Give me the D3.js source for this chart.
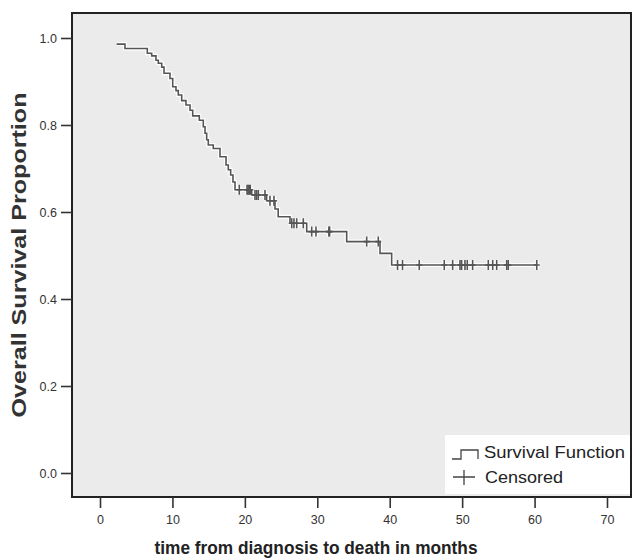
<!DOCTYPE html>
<html>
<head>
<meta charset="utf-8">
<script src="https://cdn.jsdelivr.net/npm/d3@7"></script>
<style>
  body { margin: 0; background: #fff; }
  text { font-family: Arial, "Liberation Sans", sans-serif; }
</style>
</head>
<body>
<script>
// Kaplan-Meier curve, values
var startTime = 2.3, startSurv = 0.986;
var eventTimes = [3.45, 6.53, 7.14, 7.73, 8.05, 8.52, 8.84, 9.66, 10.04, 10.49, 10.81, 11.28,
                  11.87, 12.43, 12.80, 13.71, 14.26, 14.50, 14.73, 14.95, 15.64, 16.57, 17.40,
                  17.71, 18.04, 18.36, 18.64, 20.94, 23.0, 24.16, 24.6, 26.23, 28.54, 34.06,
                  38.66, 40.27];
var survival = [0.976, 0.965, 0.959, 0.949, 0.942, 0.933, 0.919, 0.907, 0.888, 0.879, 0.869, 0.856,
                0.846, 0.834, 0.821, 0.811, 0.796, 0.781, 0.766, 0.754, 0.746, 0.727, 0.708,
                0.697, 0.685, 0.669, 0.651, 0.639, 0.626, 0.607, 0.589, 0.574, 0.555, 0.532,
                0.505, 0.478];
var censorTimes = [19.23, 20.3, 20.45, 20.6, 20.75, 21.40, 21.63, 21.86, 22.78, 23.47, 24.02,
                   26.47, 26.78, 27.16, 28.07, 29.23, 29.82, 31.6, 31.7, 36.82, 38.42,
                   41.08, 41.77, 44.08, 47.53, 48.69, 49.70, 49.93, 50.39, 50.71, 51.45,
                   53.61, 54.22, 54.77, 56.15, 56.37, 60.3];
var endTime = 60.3;
var xTicks = [0, 10, 20, 30, 40, 50, 60, 70];
var yTicks = [0, 0.2, 0.4, 0.6, 0.8, 1.0];

var width = 633, height = 559;
var plot = {left: 72, top: 13, right: 631, bottom: 497};

var x = d3.scaleLinear().domain([0, 70]).range([100, 607]);
var y = d3.scaleLinear().domain([0, 1]).range([473, 38]);

function survAt(t) {
  var s = startSurv;
  for (var i = 0; i < eventTimes.length; i++) {
    if (eventTimes[i] <= t) s = survival[i];
  }
  return s;
}

var svg = d3.select("body").append("svg")
  .attr("width", width)
  .attr("height", height);

// plot area
svg.append("rect")
  .attr("x", plot.left).attr("y", plot.top)
  .attr("width", plot.right - plot.left).attr("height", plot.bottom - plot.top)
  .attr("fill", "#ebebeb")
  .attr("stroke", "#222")
  .attr("stroke-width", 2);

// axes
var yAxis = d3.axisLeft(y).tickValues(yTicks).tickSize(11).tickPadding(4)
  .tickFormat(d3.format(".1f"));
var gy = svg.append("g").attr("transform", "translate(" + plot.left + ",0)").call(yAxis);
gy.select(".domain").remove();

var xAxis = d3.axisBottom(x).tickValues(xTicks).tickSize(11).tickPadding(7)
  .tickFormat(d3.format("d"));
var gx = svg.append("g").attr("transform", "translate(0," + plot.bottom + ")").call(xAxis);
gx.select(".domain").remove();

svg.selectAll(".tick line").attr("stroke", "#333").attr("stroke-width", 1.6);
svg.selectAll(".tick text").attr("fill", "#333").style("font-size", "12.5px");

// survival curve
var pts = [[startTime, startSurv]];
eventTimes.forEach(function(t, i) { pts.push([t, survival[i]]); });
pts.push([endTime, survival[survival.length - 1]]);

var line = d3.line()
  .x(function(d) { return x(d[0]); })
  .y(function(d) { return y(d[1]); })
  .curve(d3.curveStepAfter);

var censorPath = function(t) {
  var cx = x(t), cy = y(survAt(t));
  return "M" + cx + "," + (cy - 5) + "V" + (cy + 5) + "M" + (cx - 3) + "," + cy + "H" + (cx + 3);
};

// white halo under the line
svg.append("path").datum(pts).attr("d", line)
  .attr("fill", "none").attr("stroke", "#fff").attr("stroke-width", 4);
svg.append("g").selectAll("path").data(censorTimes).enter().append("path")
  .attr("d", censorPath).attr("stroke", "#fff").attr("stroke-width", 4);

svg.append("path").datum(pts).attr("d", line)
  .attr("fill", "none").attr("stroke", "#555").attr("stroke-width", 1.6);
svg.append("g").selectAll("path").data(censorTimes).enter().append("path")
  .attr("d", censorPath).attr("stroke", "#555").attr("stroke-width", 1.6);

// legend
var lg = svg.append("g");
lg.append("rect").attr("x", 445).attr("y", 435).attr("width", 185).attr("height", 59)
  .attr("fill", "#fff");
lg.append("path").attr("d", "M452,459H461V450H478V459")
  .attr("fill", "none").attr("stroke", "#444").attr("stroke-width", 1.3);
lg.append("text").attr("x", 484).attr("y", 458).text("Survival Function")
  .attr("fill", "#222").style("font-size", "17px")
  .attr("textLength", 141).attr("lengthAdjust", "spacingAndGlyphs");
lg.append("path").attr("d", "M453,477H475M464,470V485")
  .attr("fill", "none").attr("stroke", "#444").attr("stroke-width", 1.3);
lg.append("text").attr("x", 485).attr("y", 483).text("Censored")
  .attr("fill", "#222").style("font-size", "17px")
  .attr("textLength", 78).attr("lengthAdjust", "spacingAndGlyphs");

// titles
svg.append("text")
  .attr("transform", "translate(26,255) rotate(-90)")
  .attr("text-anchor", "middle")
  .attr("fill", "#333")
  .style("font-size", "20px").style("font-weight", "bold")
  .attr("textLength", 325).attr("lengthAdjust", "spacingAndGlyphs")
  .text("Overall Survival Proportion");

svg.append("text")
  .attr("x", 316).attr("y", 554)
  .attr("text-anchor", "middle")
  .attr("fill", "#222")
  .style("font-size", "19px").style("font-weight", "bold")
  .attr("textLength", 323).attr("lengthAdjust", "spacingAndGlyphs")
  .text("time from diagnosis to death in months");
</script>
</body>
</html>
